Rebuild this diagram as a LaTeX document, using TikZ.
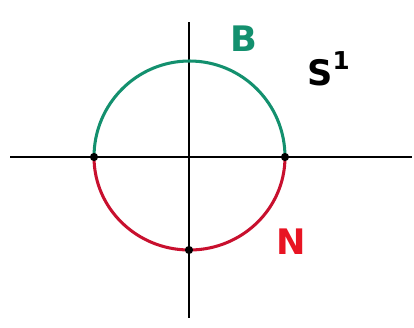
\documentclass[tikz,border=0pt]{standalone}
\usepackage{fontspec}
\setsansfont{DejaVu Sans}
\usetikzlibrary{positioning}
\definecolor{arcgreen}{HTML}{13906E}
\definecolor{arcred}{HTML}{C8102E}
\definecolor{labelred}{HTML}{E81423}
\tikzset{
  axis/.style={line width=1.5pt, draw=black},
  arc/.style={line width=2.6pt},
  pt/.style={circle, fill=black, inner sep=0pt, minimum size=7pt},
  lbl/.style={font=\sffamily\bfseries\fontsize{30}{30}\selectfont, inner sep=0pt},
}
\begin{document}
\begin{tikzpicture}[x=0.03cm, y=-0.03cm]
  \useasboundingbox (0,0) rectangle (414,327);
  % axes
  \coordinate (xl) at (10,157);
  \coordinate (xr) at (412,157);
  \coordinate (yt) at (189,22);
  \coordinate (yb) at (189,318);
  \coordinate (o) at (189,157);
  \draw[axis] (xl) -- (xr);
  \draw[axis] (yt) -- (yb);
  % circle halves
  \draw[arc, arcgreen] (94,157) arc[start angle=180, end angle=0, x radius=95.5, y radius=-96];
  \draw[arc, arcred] (94,157) arc[start angle=180, end angle=360, x radius=95.5, y radius=-93];
  % marked points
  \node[pt] (w) at (94,157) {};
  \node[pt] (e) at (285,157) {};
  \node[pt] (s) at (189,250) {};
  % labels
  \node[lbl, text=arcgreen] (b) at (244,39) {B};
  \node[lbl, text=labelred] (n) at (291,242) {N};
  \node[lbl, anchor=base west] (sone) at (307,85) {S\raisebox{4pt}{\textsuperscript{1}}};
\end{tikzpicture}
\end{document}
